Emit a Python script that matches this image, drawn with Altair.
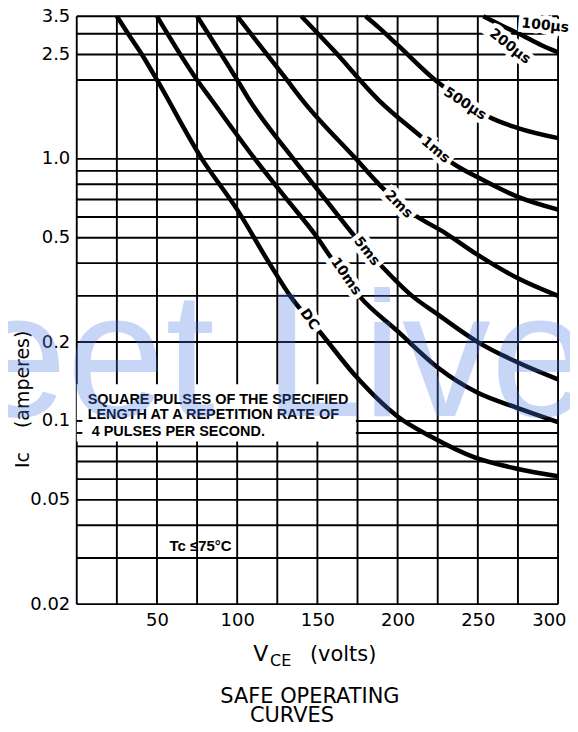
import altair as alt
import pandas as pd

# ---------------- values ----------------
X_TICKS = [50, 100, 150, 200, 250, 300]
Y_TICKS = [0.02, 0.05, 0.1, 0.2, 0.5, 1.0, 2.5, 3.5]
H_GRID = [3.5, 3.0, 2.5, 2.0, 1.0, 0.9, 0.8, 0.7, 0.6, 0.5, 0.4, 0.3, 0.2,
          0.1, 0.09, 0.08, 0.07, 0.06, 0.05, 0.04, 0.03, 0.02]
V_GRID = [0, 25, 50, 75, 100, 125, 150, 175, 200, 225, 250, 275, 300]

DC_V = [25, 32, 40.6, 50, 78, 100, 120, 133, 152, 174, 200, 221, 248, 273, 300]
DC_A = [3.5, 3.0, 2.5, 2.0, 1.0, 0.64, 0.4, 0.3, 0.217, 0.148, 0.104, 0.087, 0.0726, 0.066, 0.0615]
MS10_V = [50, 75, 84, 111, 131, 150, 158, 176, 200, 225, 250, 275, 300]
MS10_A = [3.5, 2.0, 1.68, 1.0, 0.7, 0.5, 0.424, 0.3, 0.22, 0.16, 0.128, 0.112, 0.099]
MS5_V = [75, 100, 107.5, 135, 155, 174, 190, 209, 225, 250, 275, 300]
MS5_A = [3.5, 2.0, 1.68, 1.0, 0.7, 0.5, 0.39, 0.30, 0.255, 0.2, 0.167, 0.144]
MS2_V = [100, 131, 140.5, 174, 192, 209, 230, 250, 275, 300]
MS2_A = [3.5, 2.0, 1.68, 1.0, 0.76, 0.62, 0.52, 0.43, 0.35, 0.30]
MS1_V = [140, 160, 188, 215, 233.5, 250, 275, 300]
MS1_A = [3.5, 2.6, 1.68, 1.21, 0.97, 0.85, 0.716, 0.64]
US500_V = [180, 188, 200, 225.5, 240, 256.5, 275, 300]
US500_A = [3.5, 3.18, 2.72, 1.95, 1.69, 1.45, 1.31, 1.2]
US200_V = [253.4, 267, 279.5, 289.4, 300]
US200_A = [3.5, 3.18, 2.92, 2.72, 2.55]

LABELS = ["DC", "10ms", "5ms", "2ms", "1ms", "500µs", "200µs", "100µs"]
LABEL_V = [145, 167.7, 180.7, 200.6, 223.6, 242, 270, 292]
LABEL_A = [0.244, 0.356, 0.444, 0.67, 1.08, 1.62, 2.68, 3.22]
LABEL_ANGLE = [55, 55, 52, 45, 40, 33, 38, 6]

NOTE_LINES = ["SQUARE PULSES OF THE SPECIFIED",
              "LENGTH AT A REPETITION RATE OF",
              "4 PULSES PER SECOND."]
NOTE_V = [6.8, 6.8, 9.3]
NOTE_A = [0.1156, 0.1013, 0.088]
MASK_V = [0, 174]
MASK_A = [0.0835, 0.138]
STUB_A = [0.1, 0.09]
TC_TEXT = ["Tc ≤75°C"]
TC_V = [57.8]
TC_A = [0.0318]

# ---------------- build ----------------
series = [("DC", DC_V, DC_A), ("10ms", MS10_V, MS10_A), ("5ms", MS5_V, MS5_A),
          ("2ms", MS2_V, MS2_A), ("1ms", MS1_V, MS1_A),
          ("500us", US500_V, US500_A), ("200us", US200_V, US200_A)]
curves_df = pd.DataFrame([{"curve": n, "v": v, "a": a}
                          for n, vs, as_ in series for v, a in zip(vs, as_)])
hdf = pd.DataFrame({"a": H_GRID, "x0": 0, "x1": 300})
vdf = pd.DataFrame({"v": V_GRID, "y0": 0.02, "y1": 3.5})
labels_df = pd.DataFrame({"t": LABELS, "v": LABEL_V, "a": LABEL_A, "ang": LABEL_ANGLE})
note_df = pd.DataFrame({"t": NOTE_LINES, "v": NOTE_V, "a": NOTE_A})
mask_df = pd.DataFrame({"v0": [MASK_V[0]], "v1": [MASK_V[1]], "a0": [MASK_A[0]], "a1": [MASK_A[1]]})
stub_df = pd.DataFrame({"a": STUB_A, "x0": 0, "x1": 3.5})
tc_df = pd.DataFrame({"t": TC_TEXT, "v": TC_V, "a": TC_A})
one = pd.DataFrame({"k": [0]})

xs = alt.Scale(domain=[0, 300], nice=False, zero=False)
ys = alt.Scale(type="log", domain=[0.02, 3.5], nice=False)

NB = "\u00a0"
x_axis = alt.Axis(values=X_TICKS, grid=False, ticks=False, domain=False,
                  labelFont="DejaVu Sans", labelFontSize=18, labelColor="black",
                  labelPadding=7, labelFlush=True, labelFlushOffset=8, title=None)
y_axis = alt.Axis(values=Y_TICKS, grid=False, ticks=False, domain=False,
                  labelExpr="datum.value == 1 ? '1.0' : format(datum.value, '~g')",
                  labelFont="DejaVu Sans", labelFontSize=18, labelColor="black",
                  labelPadding=7, labelOverlap=False, labelBound=False,
                  title="Ic" + NB * 4 + "(amperes)", titleFont="DejaVu Sans",
                  titleFontSize=19, titleFontWeight="normal", titleColor="black",
                  titleX=-54, titleY=384, titleAlign="center", titleBaseline="middle")


def X(f):
    return alt.X(f, scale=xs, axis=x_axis)


def Y(f):
    return alt.Y(f, scale=ys, axis=y_axis)


vgrid = alt.Chart(vdf).mark_rule(color="black", strokeWidth=1.9).encode(
    x=X("v:Q"), y=Y("y0:Q"), y2="y1:Q")
hgrid = alt.Chart(hdf).mark_rule(color="black", strokeWidth=1.9).encode(
    x=X("x0:Q"), x2="x1:Q", y=Y("a:Q"))
mask = alt.Chart(mask_df).mark_rect(color="white").encode(
    x=X("v0:Q"), x2="v1:Q", y=Y("a0:Q"), y2="a1:Q")
stubs = alt.Chart(stub_df).mark_rule(color="black", strokeWidth=1.9).encode(
    x=X("x0:Q"), x2="x1:Q", y=Y("a:Q"))
note = alt.Chart(note_df).mark_text(align="left", baseline="alphabetic",
                                    font="Liberation Sans", fontWeight="bold",
                                    fontSize=14.5, color="black").encode(
    x=X("v:Q"), y=Y("a:Q"), text="t:N")
tc = alt.Chart(tc_df).mark_text(align="left", baseline="alphabetic",
                                font="Liberation Sans", fontWeight="bold",
                                fontSize=15, color="black").encode(
    x=X("v:Q"), y=Y("a:Q"), text="t:N")
curves = alt.Chart(curves_df).mark_line(color="black", strokeWidth=4.5,
                                        interpolate="monotone").encode(
    x=X("v:Q"), y=Y("a:Q"), detail="curve:N")
halo = alt.Chart(labels_df).mark_text(font="DejaVu Sans", fontWeight="bold", fontSize=14,
                                      align="center", baseline="middle",
                                      color="white", stroke="white", strokeWidth=9).encode(
    x=X("v:Q"), y=Y("a:Q"), text="t:N", angle=alt.Angle("ang:Q", scale=None))
labels = alt.Chart(labels_df).mark_text(font="DejaVu Sans", fontWeight="bold", fontSize=14,
                                        align="center", baseline="middle",
                                        color="black").encode(
    x=X("v:Q"), y=Y("a:Q"), text="t:N", angle=alt.Angle("ang:Q", scale=None))


def txt(s, x, y, size, align="left", weight="normal"):
    return alt.Chart(one).mark_text(text=s, align=align, baseline="alphabetic",
                                    font="DejaVu Sans", fontSize=size,
                                    fontWeight=weight, color="black").encode(
        x=alt.value(x), y=alt.value(y))


t_v = txt("V", 177, 647, 22)
t_ce = txt("CE", 194, 652, 16)
t_volts = txt("(volts)", 234, 647, 21)
t_safe = txt("SAFE OPERATING", 234, 689, 21, align="center")
t_curves = txt("CURVES", 216, 708, 21, align="center")

watermark = alt.Chart(one).mark_text(text="eet Live", align="left", baseline="alphabetic",
                                     font="Liberation Sans", fontSize=178,
                                     color="#4a7ae8", opacity=0.3).encode(
    x=alt.value(-109), y=alt.value(401))

chart = alt.layer(vgrid, hgrid, mask, stubs, note, tc, curves, halo, labels,
                  t_v, t_ce, t_volts, t_safe, t_curves, watermark).properties(
    width=483, height=590,
    padding={"left": 69, "top": 7, "right": 12, "bottom": 119},
    autosize=alt.AutoSizeParams(type="none"),
).configure_view(stroke=None)

chart.save("out.html", embed_options={"renderer": "svg", "actions": False})
